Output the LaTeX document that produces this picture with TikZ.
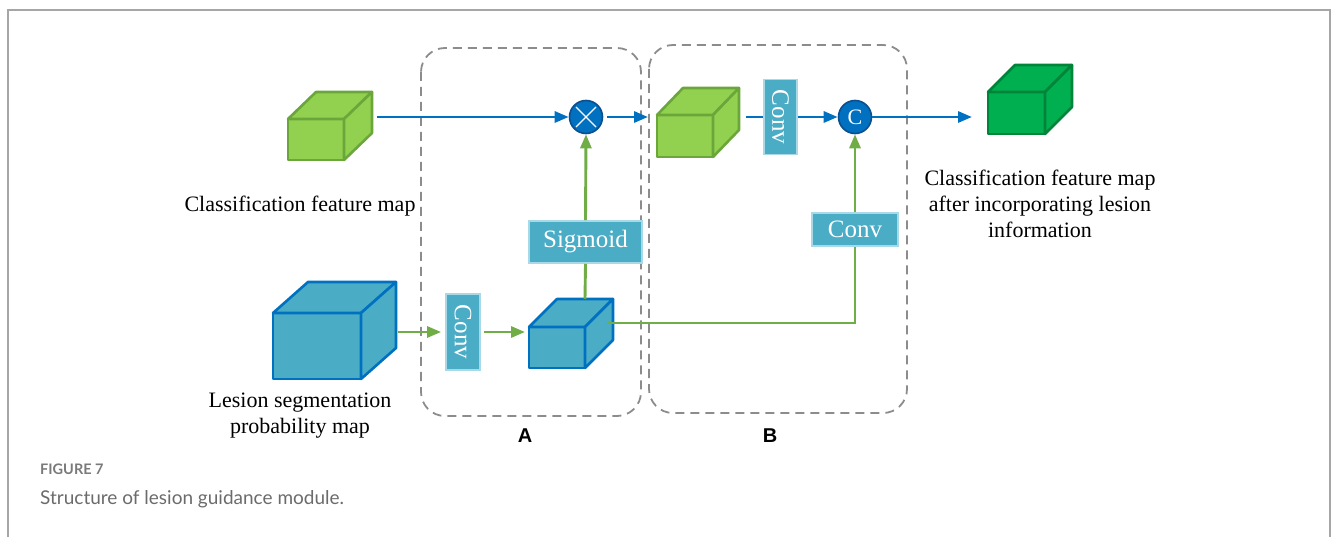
\documentclass[tikz,border=0pt]{standalone}
\usepackage{fontspec}
\usepackage{graphicx}
\setmainfont{Liberation Serif}
\newfontfamily\labfont{Liberation Sans}
\newfontfamily\capfont{Lato}
\usetikzlibrary{arrows.meta,calc}

\definecolor{lgreen}{HTML}{92D050}
\definecolor{lgreenline}{HTML}{6AA63A}
\definecolor{dgreen}{HTML}{00B050}
\definecolor{dgreenline}{HTML}{00843A}
\definecolor{cyanfill}{HTML}{4BACC6}
\definecolor{cyanline}{HTML}{A9D8E6}
\definecolor{bluel}{HTML}{0070C0}
\definecolor{opnavy}{HTML}{0B4F8F}
\definecolor{gline}{HTML}{70AD47}
\definecolor{dashgray}{HTML}{8C8C8C}
\definecolor{framegray}{HTML}{A6A6A6}
\definecolor{capgray}{HTML}{6B6B6B}
\definecolor{figgray}{HTML}{7A7A7A}

% top and side faces of a cube whose front face is the node #1
\newcommand\cubesides[4]{%
  \draw[#4] (#1.north west) -- ([shift={(#2,#3)}]#1.north west)
     -- ([shift={(#2,#3)}]#1.north east) -- (#1.north east) -- cycle;
  \draw[#4] (#1.north east) -- ([shift={(#2,#3)}]#1.north east)
     -- ([shift={(#2,#3)}]#1.south east) -- (#1.south east) -- cycle;
}

\tikzset{
  face/.style={line width=2.6, line join=round, inner sep=0, outer sep=0},
  lgface/.style={face, draw=lgreenline, fill=lgreen},
  dgface/.style={face, draw=dgreenline, fill=dgreen},
  cyface/.style={face, draw=bluel, fill=cyanfill},
  opbox/.style={draw=cyanline, fill=cyanfill, line width=1.8, inner sep=0,
    text=white, font=\fontsize{25}{25}\selectfont},
  opcirc/.style={circle, draw=opnavy, fill=bluel, line width=1.6,
    minimum size=33, inner sep=0, text=white},
  barrow/.style={draw=bluel, line width=2.9, -{Triangle[length=14,width=11]}},
  bline/.style={draw=bluel, line width=2.9},
  garrow/.style={draw=gline, line width=2.9, -{Triangle[length=14,width=11]}},
  gwire/.style={draw=gline, line width=2.9},
  region/.style={draw=dashgray, line width=1.8, dash pattern=on 9 off 6,
    rounded corners=24},
  lab/.style={font=\fontsize{22}{26}\selectfont, align=center},
  reglab/.style={font=\labfont\bfseries\fontsize{20}{20}\selectfont},
}

\begin{document}
\begin{tikzpicture}[x=1pt,y=-1pt]
\useasboundingbox (0,0) rectangle (1331,537);

% frame
\draw[framegray, line width=2] (8,537) -- (8,10) -- (1330,10) -- (1330,537);

% dashed regions
\draw[region] (421,48) rectangle (641,416);
\draw[region] (649,45) rectangle (907,413);
\node[reglab] (labA) at (525,436) {A};
\node[reglab] (labB) at (770,436) {B};

% cubes
\node[lgface, minimum width=56, minimum height=41] (f1) at (316,139.5) {};
\cubesides{f1}{28}{-27}{lgface}
\node[lgface, minimum width=56, minimum height=42] (f2) at (685,136) {};
\cubesides{f2}{26}{-27}{lgface}
\node[dgface, minimum width=57, minimum height=42] (f3) at (1016.5,113) {};
\cubesides{f3}{27}{-27}{dgface}
\node[cyface, minimum width=88, minimum height=66] (bb) at (317,346) {};
\cubesides{bb}{35}{-31}{cyface}
\node[cyface, minimum width=56, minimum height=41] (sb) at (557,347.5) {};
\cubesides{sb}{28}{-28}{cyface}

% operators
\node[opcirc] (mul) at (586,117) {};
\draw[white, line width=1.1] ([shift={(-10,-10)}]mul.center) -- ([shift={(10,10)}]mul.center)
  ([shift={(-10,10)}]mul.center) -- ([shift={(10,-10)}]mul.center);
\node[opcirc, font=\fontsize{22}{22}\selectfont] (cat) at (855,117) {C};

\node[opbox, minimum width=33, minimum height=75] (conv1) at (780.5,117) {\rotatebox{-90}{Conv}};
\node[opbox, minimum width=34, minimum height=76] (conv2) at (463,332) {\rotatebox{-90}{Conv}};
\node[opbox, minimum width=113, minimum height=42] (sig) at (585.5,242) {Sigmoid};
\node[opbox, minimum width=86, minimum height=33] (conv3) at (855,229.5) {Conv};

% labels
\node[lab] (t1) at (300,206) {Classification feature map};
\node[lab] (t2) at (300,416) {Lesion segmentation\\probability map};
\node[lab] (t3) at (1040,204) {Classification feature map\\after incorporating lesion\\information};

% classification path
\draw[barrow] ([xshift=33]f1.east |- mul) -- (mul);
\draw[barrow, shorten <=4, shorten >=9] (mul.east) -- (f2.west |- mul);
\draw[bline] ([xshift=33]f2.east |- mul) -- (conv1.west);
\draw[barrow] (conv1.east) -- (cat.west);
\draw[barrow, shorten >=16] (cat.east) -- (f3.west |- cat);

% lesion path
\draw[garrow, shorten >=4] ([xshift=37]bb.east |- conv2) -- (conv2.west);
\draw[garrow, shorten <=3, shorten >=4] (conv2.east) -- (sb.west |- conv2);
\coordinate (sbtop) at ([shift={(28,-28)}]sb.north);
\draw[gwire] (sbtop) -- (sig.south);
\draw[garrow] (sig.north) -- (mul.south);
\coordinate (sbside) at ([shift={(22,-24.5)}]sb.east);
\draw[gwire] (sbside) -| (conv3.south);
\draw[garrow] (conv3.north) -- (cat.south);

% caption
\node[anchor=base west, inner sep=0, font=\capfont\bfseries\fontsize{14.5}{14.5}\selectfont, text=figgray] (fig) at (40,474) {FIGURE 7};
\node[anchor=base west, inner sep=0, font=\capfont\fontsize{19}{19}\selectfont, text=capgray] (cap) at (40,504) {Structure of lesion guidance module.};
\end{tikzpicture}
\end{document}
